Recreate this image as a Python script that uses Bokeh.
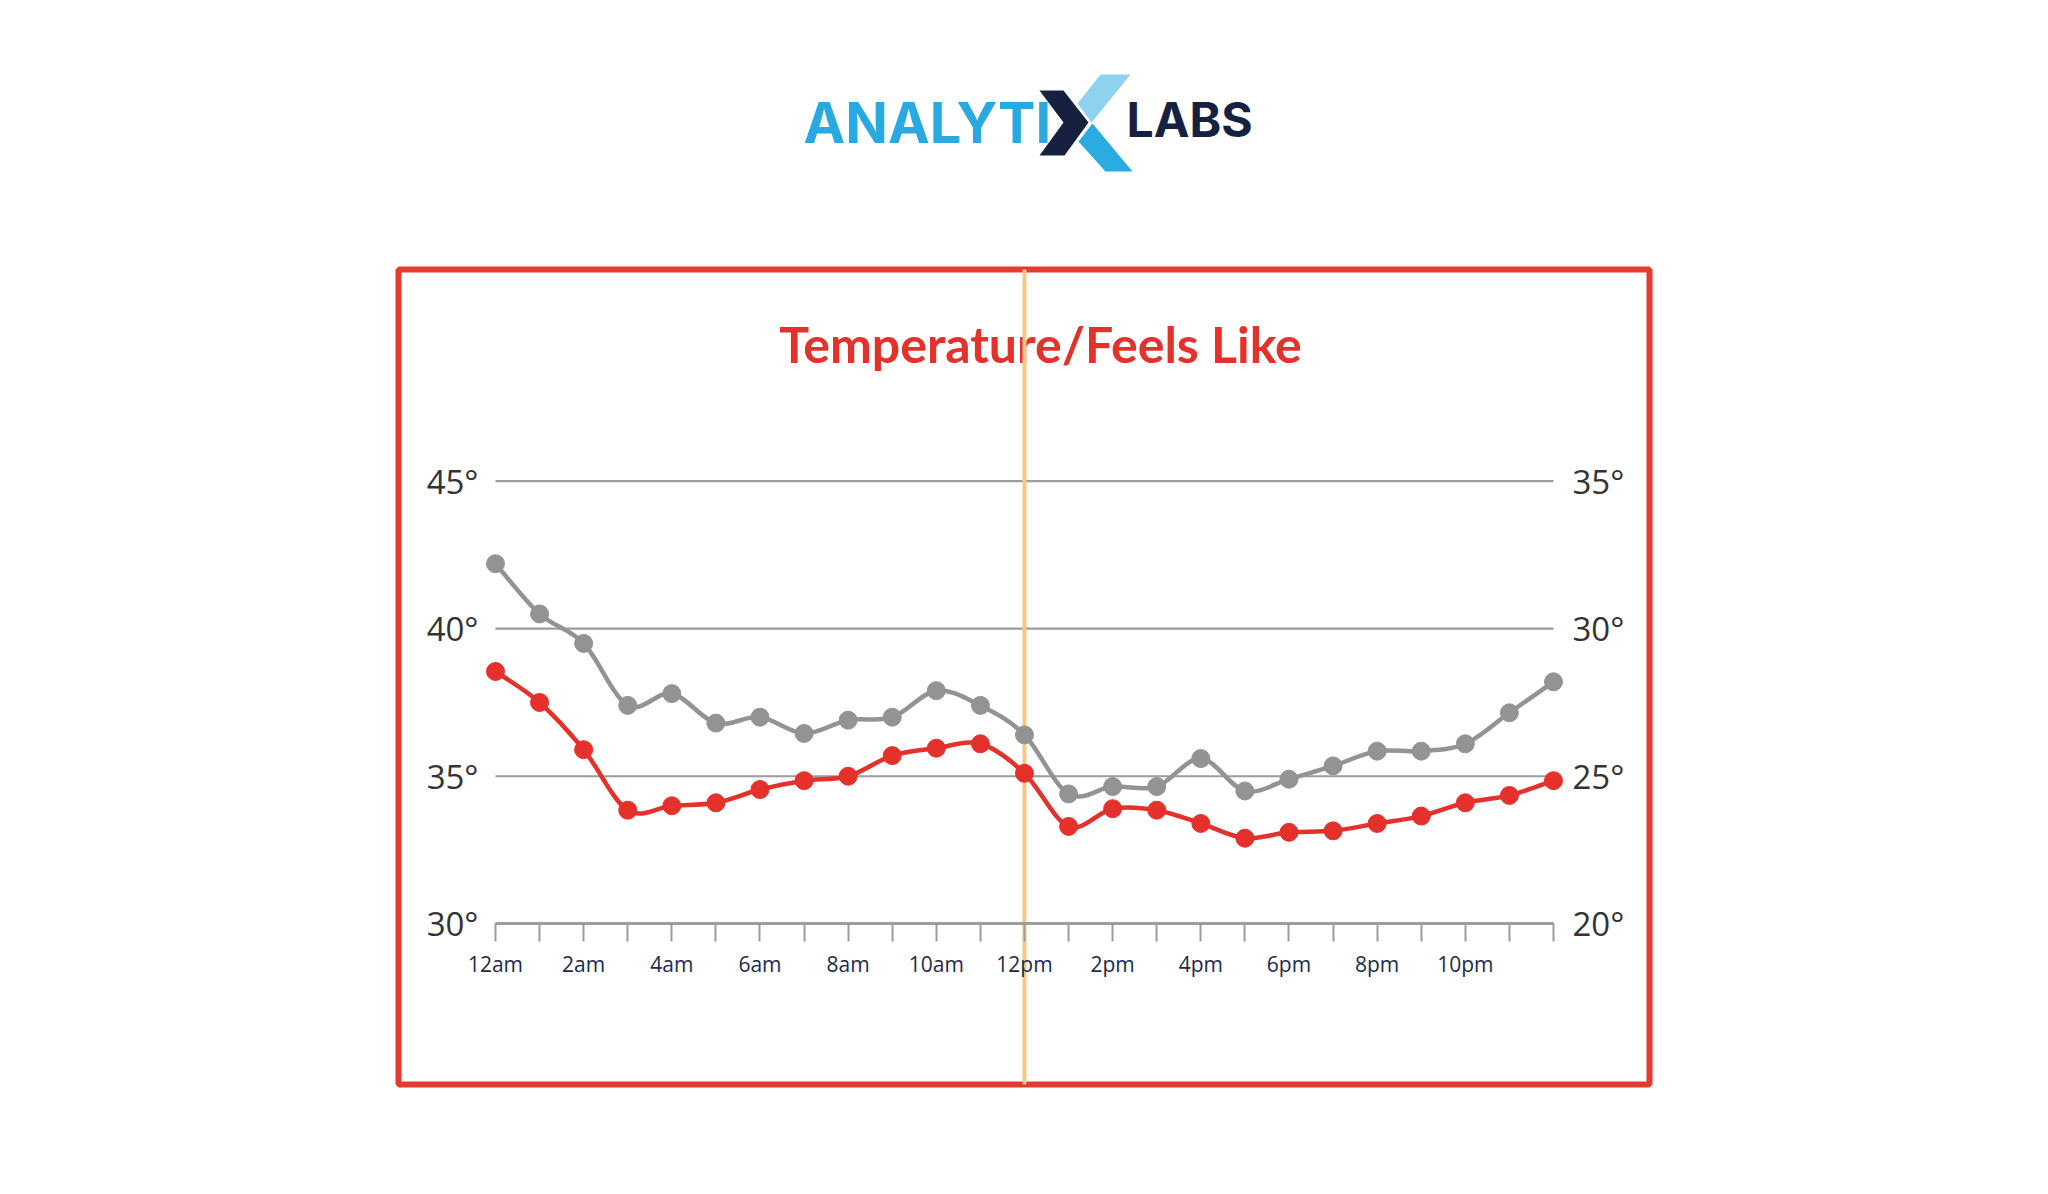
from bokeh.plotting import figure
from bokeh.models import Range1d, LinearAxis, FixedTicker
from bokeh.embed import file_html
from bokeh.resources import INLINE
from bokeh.core.properties import value

# ---------------- data ----------------
hours = list(range(25))
x_tick_hours = [0, 2, 4, 6, 8, 10, 12, 14, 16, 18, 20, 22]
x_tick_labels = ["12am", "2am", "4am", "6am", "8am", "10am",
                 "12pm", "2pm", "4pm", "6pm", "8pm", "10pm"]

# grey series, read on the left axis (30-45)
grey_left = [42.2, 40.5, 39.5, 37.4, 37.8, 36.8, 37.0, 36.45, 36.9, 37.0,
             37.9, 37.4, 36.4, 34.4, 34.65, 34.65, 35.6, 34.5, 34.9, 35.35,
             35.85, 35.85, 36.1, 37.15, 38.2]
# red series, read on the right axis (20-35)
red_right = [28.55, 27.5, 25.9, 23.85, 24.0, 24.1, 24.55, 24.85, 25.0, 25.7,
             25.95, 26.1, 25.1, 23.3, 23.9, 23.85, 23.4, 22.9, 23.1, 23.15,
             23.4, 23.65, 24.1, 24.35, 24.85]

y_left_ticks = [30, 35, 40, 45]
y_left_labels = ["30°", "35°", "40°", "45°"]
y_right_ticks = [20, 25, 30, 35]
y_right_labels = ["20°", "25°", "30°", "35°"]

title_text = "Temperature/Feels Like"
noon_hour = 12

# ---------------- layout helpers (reference pixel -> data units) ----------------
W, H = 2032, 1178
PX_H0, PX_PER_H = 495.0, 44.083       # x pixel of hour 0, px per hour
PX_Y30, PX_PER_DEG = 923.3, 29.513    # y pixel of 30 deg, px per degree
TXT_DY = 19                           # baseline correction for text glyphs


def X(px):
    return (px - PX_H0) / PX_PER_H


def Y(py):
    return 30 + (PX_Y30 - py) / PX_PER_DEG


x0r, x1r = X(0), X(W)
y0r, y1r = Y(H), Y(0)

p = figure(width=W, height=H, output_backend="svg", toolbar_location=None,
           x_range=Range1d(x0r, x1r), y_range=Range1d(y0r, y1r),
           x_axis_location=None, y_axis_location=None,
           min_border=0, min_border_left=0, min_border_right=0,
           min_border_top=0, min_border_bottom=0)
p.extra_y_ranges = {"right": Range1d(y0r - 10, y1r - 10)}
p.outline_line_color = None
p.background_fill_color = "white"
p.border_fill_color = "white"
for g in p.grid:
    g.visible = False

RED = "#e4312b"
GREY = "#939393"
GRIDC = "#9d9d9d"
NAVY = "#16213f"

# ---------------- logo ----------------
p.text(x=[X(803)], y=[Y(141 - TXT_DY)], text=["ANALYTI"], text_font=value("Inter"),
       text_font_style="bold", text_font_size="56px", text_color="#2aa9e1",
       text_align="left", text_baseline="alphabetic")
p.text(x=[X(1126)], y=[Y(137.5 - TXT_DY)], text=["LABS"], text_font=value("Inter"),
       text_font_style="bold", text_font_size="48px", text_color=NAVY,
       text_align="left", text_baseline="alphabetic")
chev = [(1039, 90), (1063, 90), (1088, 122), (1064, 155), (1039, 155), (1063, 122)]
upper = [(1100, 74), (1130, 74), (1091, 122), (1077, 103)]
lower = [(1078, 141), (1092, 123), (1132, 171), (1105, 171)]
p.patch([X(a) for a, b in upper], [Y(b) for a, b in upper], fill_color="#8fd2f0", line_color=None)
p.patch([X(a) for a, b in lower], [Y(b) for a, b in lower], fill_color="#2aabe2", line_color=None)
p.patch([X(a) for a, b in chev], [Y(b) for a, b in chev], fill_color=NAVY, line_color=None)

# ---------------- frame box ----------------
box_l, box_r, box_t, box_b = X(398), X(1649), Y(269), Y(1084)
p.quad(left=[box_l], right=[box_r], top=[box_t], bottom=[box_b],
       fill_color=None, line_color="#e53a2f", line_width=6)

# ---------------- grid lines ----------------
p.segment(x0=[hours[0]] * len(y_left_ticks), x1=[hours[-1]] * len(y_left_ticks),
          y0=y_left_ticks, y1=y_left_ticks, line_color=GRIDC, line_width=2.2)

# ---------------- title ----------------
p.text(x=[X(1040)], y=[Y(362 - TXT_DY)], text=[title_text], text_font=value("Lato"),
       text_font_style="bold", text_font_size="50px", text_color=RED,
       text_align="center", text_baseline="alphabetic")

# ---------------- axes ----------------
yl = LinearAxis(fixed_location=hours[0], ticker=FixedTicker(ticks=y_left_ticks),
                major_label_overrides=dict(zip(y_left_ticks, y_left_labels)))
yr = LinearAxis(fixed_location=hours[-1], y_range_name="right",
                ticker=FixedTicker(ticks=y_right_ticks),
                major_label_overrides=dict(zip(y_right_ticks, y_right_labels)))
for ax, so in ((yl, 17), (yr, 19)):
    ax.axis_line_color = None
    ax.major_tick_line_color = None
    ax.minor_tick_line_color = None
    ax.major_tick_out = 0
    ax.major_tick_in = 0
    ax.major_label_standoff = so
    ax.major_label_text_font = "Open Sans"
    ax.major_label_text_font_size = "33px"
    ax.major_label_text_color = "#333333"
p.add_layout(yl, "left")
p.add_layout(yr, "right")

xb = LinearAxis(fixed_location=y_left_ticks[0], bounds=(hours[0], hours[-1]),
                ticker=FixedTicker(ticks=hours),
                major_label_overrides={h: (x_tick_labels[x_tick_hours.index(h)]
                                           if h in x_tick_hours else "")
                                       for h in hours})
xb.axis_line_color = GRIDC
xb.axis_line_width = 3
xb.major_tick_line_color = GRIDC
xb.major_tick_line_width = 2
xb.major_tick_out = 18
xb.major_tick_in = 0
xb.minor_tick_line_color = None
xb.major_label_standoff = 8
xb.major_label_text_font = "Open Sans"
xb.major_label_text_font_size = "21px"
xb.major_label_text_color = "#1e2a4c"
p.add_layout(xb, "below")

# ---------------- noon marker ----------------
p.segment(x0=[noon_hour], x1=[noon_hour], y0=[box_b], y1=[box_t],
          line_color="#f6c888", line_width=4)


# ---------------- smooth series ----------------
def bezier_cols(xs, ys):
    n = len(xs)
    out = {k: [] for k in ("x0", "y0", "x1", "y1", "cx0", "cy0", "cx1", "cy1")}
    for i in range(n - 1):
        a, b = max(i - 1, 0), min(i + 2, n - 1)
        out["x0"].append(xs[i]); out["y0"].append(ys[i])
        out["x1"].append(xs[i + 1]); out["y1"].append(ys[i + 1])
        out["cx0"].append(xs[i] + (xs[i + 1] - xs[a]) / 6)
        out["cy0"].append(ys[i] + (ys[i + 1] - ys[a]) / 6)
        out["cx1"].append(xs[i + 1] - (xs[b] - xs[i]) / 6)
        out["cy1"].append(ys[i + 1] - (ys[b] - ys[i]) / 6)
    return out


p.bezier(**bezier_cols(hours, grey_left), line_color=GREY, line_width=4.5)
p.bezier(**bezier_cols(hours, red_right), line_color=RED, line_width=4.5,
         y_range_name="right")
p.scatter(hours, grey_left, size=18, color=GREY, marker="circle")
p.scatter(hours, red_right, size=18, color=RED, marker="circle",
          y_range_name="right")

open("out.html", "w").write(file_html(p, INLINE))
